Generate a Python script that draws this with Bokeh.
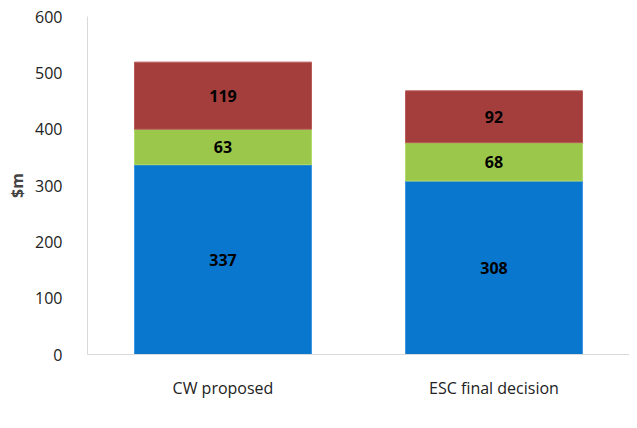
from bokeh.plotting import figure
from bokeh.models import ColumnDataSource, Legend, LegendItem, LabelSet, FactorRange
from bokeh.core.properties import value
from bokeh.embed import file_html
from bokeh.resources import INLINE

categories = ["CW proposed", "ESC final decision"]
series_names = ["Operating costs", "Depreciation", "Return on assets"]
operating_costs = [337, 308]
depreciation = [63, 68]
return_on_assets = [119, 92]
y_ticks = [0, 100, 200, 300, 400, 500, 600]

colors = ["#0A77CF", "#9BC84A", "#A33E3C"]
edge_colors = ["#3C97E0", "#B3D96A", "#B85A58"]
FONT = "Open Sans"

p = figure(x_range=FactorRange(*categories), y_range=(0, 600),
           output_backend="svg", toolbar_location=None,
           min_border_left=87, min_border_right=0, min_border_top=16, min_border_bottom=66)
p.frame_width = 542
p.frame_height = 338

series = [operating_costs, depreciation, return_on_assets]
bottoms = [0, 0]
renderers = []
label_x, label_y, label_t = [], [], []
for name, vals, c, ec in zip(series_names, series, colors, edge_colors):
    tops = [b + v for b, v in zip(bottoms, vals)]
    src = ColumnDataSource(dict(x=categories, bottom=bottoms, top=tops))
    r = p.vbar(x="x", bottom="bottom", top="top", width=0.653, source=src,
               fill_color=c, line_color=ec, line_width=1)
    renderers.append(r)
    for cat, b, t, v in zip(categories, bottoms, tops, vals):
        label_x.append(cat)
        label_y.append((b + t) / 2)
        label_t.append(str(v))
    bottoms = tops

lsrc = ColumnDataSource(dict(x=label_x, y=label_y, t=label_t))
labels = LabelSet(x="x", y="y", text="t", source=lsrc, text_align="center",
                  text_baseline="middle", text_font=value(FONT), text_font_style="bold",
                  text_font_size="16px", text_color="#000000")
p.add_layout(labels)

p.xgrid.grid_line_color = None
p.ygrid.grid_line_color = None
p.outline_line_color = None

p.yaxis.ticker = y_ticks
p.yaxis.axis_line_color = "#D9D9D9"
p.yaxis.major_tick_line_color = None
p.yaxis.minor_tick_line_color = None
p.yaxis.major_label_text_font = FONT
p.yaxis.major_label_text_font_size = "16px"
p.yaxis.major_label_text_color = "#222222"
p.yaxis.major_label_standoff = 19
p.yaxis.axis_label = "$m"
p.yaxis.axis_label_text_font = FONT
p.yaxis.axis_label_text_font_style = "bold"
p.yaxis.axis_label_text_font_size = "16px"
p.yaxis.axis_label_standoff = 4

p.xaxis.axis_line_color = "#D9D9D9"
p.xaxis.major_tick_line_color = None
p.xaxis.minor_tick_line_color = None
p.xaxis.major_label_text_font = FONT
p.xaxis.major_label_text_font_size = "16px"
p.xaxis.major_label_text_color = "#222222"
p.xaxis.major_label_standoff = 16

legend = Legend(items=[LegendItem(label=n, renderers=[r]) for n, r in zip(series_names, renderers)],
                orientation="horizontal", location="top_left",
                label_text_font=FONT, label_text_font_size="16px", label_text_color="#222222",
                glyph_width=10, glyph_height=10, spacing=40, label_standoff=5,
                border_line_color=None, background_fill_alpha=0, padding=0, margin=4)
p.add_layout(legend, "below")

open("out.html", "w").write(file_html(p, INLINE))
